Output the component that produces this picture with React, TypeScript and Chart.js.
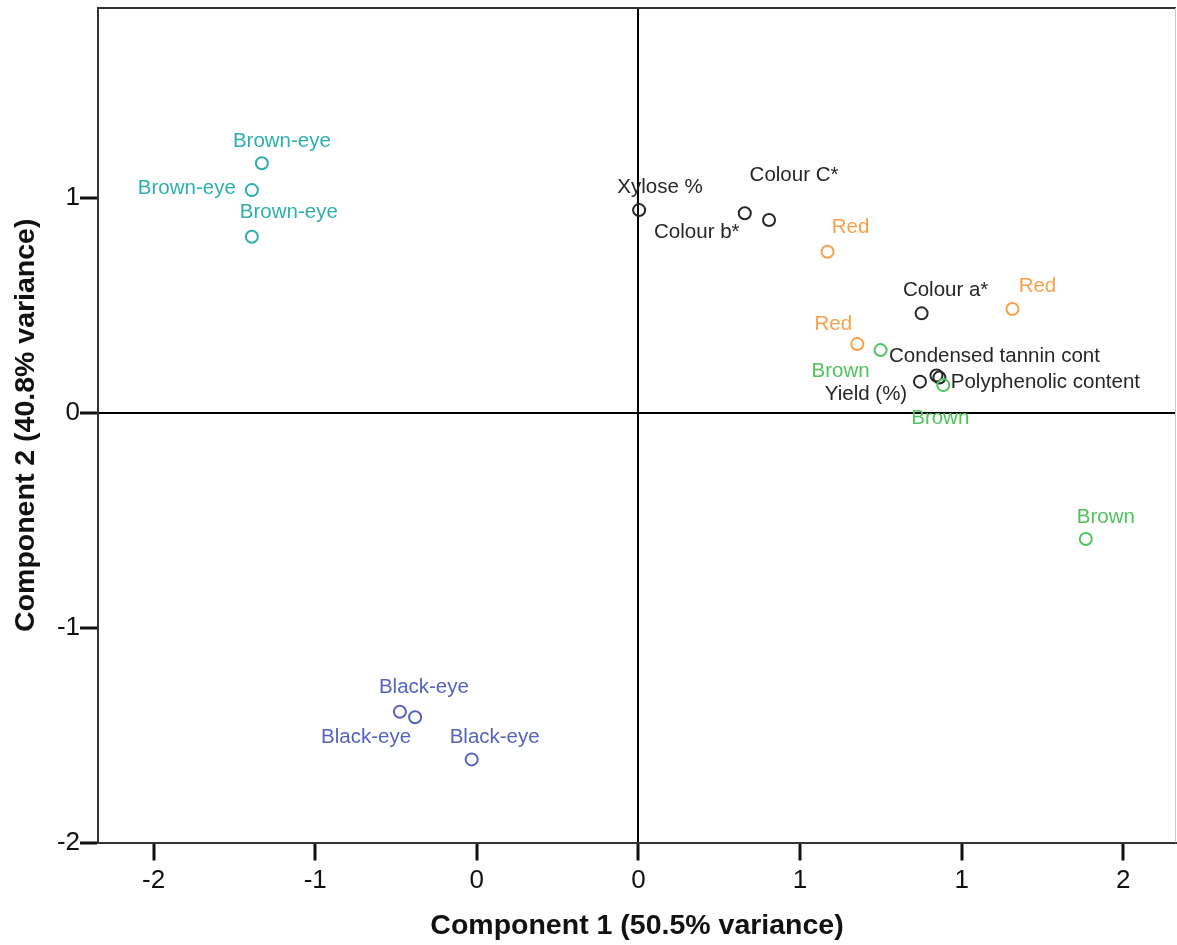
import React, { useEffect, useRef } from "react";
import { Chart, registerables } from "chart.js";

Chart.register(...registerables);

// Component scores (PC1, PC2) for the sample groups
const brownEyePC1 = [-1.165, -1.196, -1.196];
const brownEyePC2 = [1.163, 1.038, 0.821];

const blackEyePC1 = [-0.738, -0.691, -0.516];
const blackEyePC2 = [-1.391, -1.417, -1.613];

const redPC1 = [0.585, 1.157, 0.677];
const redPC2 = [0.751, 0.484, 0.321];

const brownPC1 = [0.749, 0.943, 1.384];
const brownPC2 = [0.293, 0.13, -0.587];

// Loadings of the measured variables
const variableNames = [
  "Xylose %",
  "Colour b*",
  "Colour C*",
  "Colour a*",
  "Condensed tannin cont",
  "Polyphenolic content",
  "Yield (%)",
];
const variablePC1 = [0.002, 0.329, 0.404, 0.876, 0.922, 0.931, 0.871];
const variablePC2 = [0.945, 0.93, 0.899, 0.464, 0.175, 0.165, 0.146];

// Axis ticks
const xTickValues = [-1.5, -1, -0.5, 0, 0.5, 1, 1.5];
const xTickLabels = ["-2", "-1", "0", "0", "1", "1", "2"];
const yTickValues = [-2, -1, 0, 1];
const yTickLabels = ["-2", "-1", "0", "1"];

const FONT = '"Liberation Sans", Arial, Helvetica, sans-serif';

// Label placement for each point: [dx, dy] in pixels from the marker centre
const brownEyeLabelOffsets = [[20, -22], [-65, -2], [37, -24]];
const blackEyeLabelOffsets = [[24, -24], [-49, 20], [23, -22]];
const redLabelOffsets = [[23, -24], [25, -23], [-24, -20]];
const brownLabelOffsets = [[-40, 21], [-3, 33], [20, -22]];
const variableLabelOffsets = [
  [21, -23],
  [-48, 19],
  [25, -45],
  [24, -23],
  [58, -19],
  [106, 5],
  [-54, 13],
];

type Series = {
  name: string;
  color: string;
  xs: number[];
  ys: number[];
  labels: string[];
  offsets: number[][];
};

const series: Series[] = [
  { name: "Brown-eye", color: "#2bb0ae", xs: brownEyePC1, ys: brownEyePC2, labels: brownEyePC1.map(() => "Brown-eye"), offsets: brownEyeLabelOffsets },
  { name: "Black-eye", color: "#5563c0", xs: blackEyePC1, ys: blackEyePC2, labels: blackEyePC1.map(() => "Black-eye"), offsets: blackEyeLabelOffsets },
  { name: "Red", color: "#fba04a", xs: redPC1, ys: redPC2, labels: redPC1.map(() => "Red"), offsets: redLabelOffsets },
  { name: "Brown", color: "#4fc35c", xs: brownPC1, ys: brownPC2, labels: brownPC1.map(() => "Brown"), offsets: brownLabelOffsets },
  { name: "Variables", color: "#262626", xs: variablePC1, ys: variablePC2, labels: variableNames, offsets: variableLabelOffsets },
];

// Writes each point's name next to its marker
const pointLabels = {
  id: "pointLabels",
  afterDatasetsDraw(chart: any) {
    const ctx = chart.ctx;
    ctx.save();
    ctx.font = `20.5px ${FONT}`;
    ctx.textAlign = "center";
    ctx.textBaseline = "middle";
    series.forEach((s, di) => {
      const meta = chart.getDatasetMeta(di);
      meta.data.forEach((el: any, i: number) => {
        const [dx, dy] = s.offsets[i];
        ctx.fillStyle = s.color;
        ctx.fillText(s.labels[i], el.x + dx, el.y + dy);
      });
    });
    ctx.restore();
  },
};

// Closes the plot frame on the top and right sides
const plotFrame = {
  id: "plotFrame",
  beforeDatasetsDraw(chart: any) {
    const { ctx, chartArea } = chart;
    ctx.save();
    ctx.strokeStyle = "#333";
    ctx.lineWidth = 2;
    ctx.beginPath();
    ctx.moveTo(chartArea.left, chartArea.top);
    ctx.lineTo(chartArea.right, chartArea.top);
    ctx.stroke();
    ctx.strokeStyle = "#c8c8c8";
    ctx.lineWidth = 1;
    ctx.beginPath();
    ctx.moveTo(chartArea.right - 0.5, chartArea.top);
    ctx.lineTo(chartArea.right - 0.5, chartArea.bottom);
    ctx.stroke();
    ctx.restore();
  },
};

export default function App() {
  const canvasRef = useRef<HTMLCanvasElement | null>(null);

  useEffect(() => {
    if (!canvasRef.current) return;
    const zeroLine = (c: any) => (c.tick && c.tick.value === 0 ? "#000" : "rgba(0,0,0,0)");
    const chart = new Chart(canvasRef.current, {
      type: "scatter",
      data: {
        datasets: series.map((s) => ({
          label: s.name,
          data: s.xs.map((x, i) => ({ x, y: s.ys[i] })),
          pointStyle: "circle",
          pointRadius: 6,
          pointHoverRadius: 6,
          pointBorderWidth: 2,
          borderColor: s.color,
          backgroundColor: "rgba(0,0,0,0)",
          showLine: false,
        })),
      },
      options: {
        responsive: false,
        animation: false,
        events: [],
        layout: { autoPadding: false, padding: { top: 8, right: 1, left: 0, bottom: 0 } },
        plugins: { legend: { display: false }, tooltip: { enabled: false } },
        scales: {
          x: {
            type: "linear",
            min: -1.672,
            max: 1.663,
            afterBuildTicks: (s: any) => {
              s.ticks = xTickValues.map((v) => ({ value: v }));
            },
            afterFit: (s: any) => {
              s.height = 102.5;
              s.paddingLeft = 0;
              s.paddingRight = 0;
            },
            ticks: {
              autoSkip: false,
              maxRotation: 0,
              padding: 5,
              color: "#111",
              font: { family: FONT, size: 26 },
              callback: (v: any) => xTickLabels[xTickValues.indexOf(Number(v))],
            },
            grid: {
              color: zeroLine,
              lineWidth: 2,
              tickColor: "#111",
              tickWidth: 3,
              tickLength: 18,
            },
            border: { display: true, color: "#333", width: 2 },
            title: {
              display: true,
              text: "Component 1 (50.5% variance)",
              color: "#111",
              font: { family: FONT, size: 28.5, weight: "bold" },
              padding: { top: 0, bottom: 1.5 },
            },
          },
          y: {
            type: "linear",
            min: -2,
            max: 1.886,
            afterBuildTicks: (s: any) => {
              s.ticks = yTickValues.map((v) => ({ value: v }));
            },
            afterFit: (s: any) => {
              s.width = 98;
              s.paddingTop = 0;
              s.paddingBottom = 0;
            },
            ticks: {
              autoSkip: false,
              padding: 0,
              color: "#111",
              font: { family: FONT, size: 26 },
              callback: (v: any) => yTickLabels[yTickValues.indexOf(Number(v))],
            },
            grid: {
              color: zeroLine,
              lineWidth: 2,
              tickColor: "#111",
              tickWidth: 3,
              tickLength: 18,
            },
            border: { display: true, color: "#333", width: 2 },
            title: {
              display: true,
              text: "Component 2 (40.8% variance)",
              color: "#111",
              font: { family: FONT, size: 28.5, weight: "bold" },
              padding: { top: 9, bottom: 0 },
            },
          },
        },
      },
      plugins: [plotFrame, pointLabels],
    } as any);
    return () => chart.destroy();
  }, []);

  return (
    <div style={{ position: "absolute", left: 0, top: 0, width: 1177, height: 945, background: "#fff" }}>
      <canvas ref={canvasRef} width={1177} height={945} style={{ display: "block" }} />
    </div>
  );
}
